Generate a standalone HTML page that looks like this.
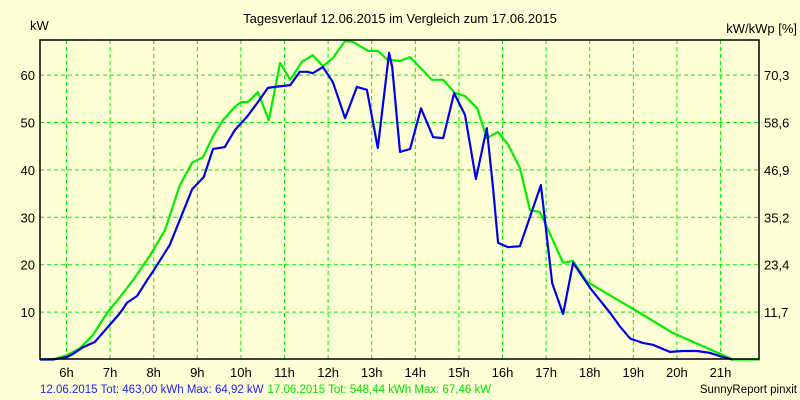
<!DOCTYPE html>
<html><head><meta charset="utf-8"><style>
html,body{margin:0;padding:0;background:#ffffd6;}
svg{display:block;font-family:"Liberation Sans",sans-serif;}
</style></head><body>
<svg id="chart" width="800" height="400">
<rect x="0" y="0" width="800" height="400" fill="#ffffd6"/>
<text x="400" y="23" text-anchor="middle" font-size="13" fill="#000">Tagesverlauf 12.06.2015 im Vergleich zum 17.06.2015</text>
<text x="30" y="30" font-size="13" fill="#000">kW</text>
<text x="797" y="33" text-anchor="end" font-size="13" fill="#000">kW/kWp [%]</text>
<g id="grid"></g>
<g id="series"></g>
<rect x="40" y="40" width="719" height="319" fill="none" stroke="#000" stroke-width="1.5"/>
<g id="axes"></g>
<text y="393" font-size="11.5"><tspan x="40" fill="#2020ff">12.06.2015 Tot: 463,00 kWh Max: 64,92 kW</tspan><tspan fill="#00e000" dx="4">17.06.2015 Tot: 548,44 kWh Max: 67,46 kW</tspan></text>
<text x="797" y="393" text-anchor="end" font-size="11.5" fill="#000">SunnyReport pinxit</text>
</svg>
<script>
const hourTicks = [6,7,8,9,10,11,12,13,14,15,16,17,18,19,20,21];
const kwTicks = [10,20,30,40,50,60];
const pctLabels = ["11,7","23,4","35,2","46,9","58,6","70,3"];
const blueHours = [5.39,5.69,6.01,6.15,6.38,6.65,6.99,7.23,7.39,7.62,7.85,7.98,8.37,8.88,9.15,9.36,9.63,9.86,10.14,10.39,10.62,10.78,11.13,11.35,11.52,11.65,11.88,12.11,12.39,12.66,12.89,13.14,13.40,13.47,13.65,13.88,14.13,14.41,14.64,14.89,15.14,15.39,15.64,15.78,15.90,16.13,16.40,16.88,17.14,17.39,17.62,18.01,18.47,18.70,18.93,19.22,19.45,19.84,20.14,20.46,20.76,21.06,21.28];
const blueKw = [0,0,0.5,1.2,2.6,3.7,7.3,9.8,12.0,13.4,16.8,18.5,24.2,35.9,38.5,44.4,44.8,48.4,51.2,54.3,57.3,57.5,57.9,60.7,60.7,60.4,61.7,58.5,50.9,57.5,56.9,44.6,64.7,61.7,43.8,44.4,53.0,46.9,46.7,56.2,51.6,38.1,48.8,36.5,24.6,23.7,23.9,36.8,16.1,9.6,20.4,15.1,9.8,6.9,4.4,3.5,3.1,1.6,1.8,1.8,1.4,0.5,0];
const greenHours = [5.39,5.74,6.01,6.31,6.61,6.93,7.23,7.53,7.92,8.26,8.60,8.88,9.13,9.36,9.59,9.86,10.00,10.16,10.39,10.64,10.90,11.13,11.40,11.65,11.88,12.11,12.39,12.57,12.92,13.14,13.37,13.65,13.88,14.38,14.64,14.91,15.14,15.42,15.64,15.90,16.13,16.40,16.63,16.86,17.39,17.62,17.94,18.99,19.91,20.99,21.28,21.90];
const greenKw = [0,0.1,0.9,2.4,5.2,9.8,13.2,16.8,22.0,27.3,36.8,41.5,42.7,47.1,50.5,53.3,54.3,54.3,56.4,50.5,62.6,59.0,62.8,64.2,61.9,63.6,67.2,67.0,65.1,65.1,63.2,63.0,63.8,59.0,59.0,56.2,55.6,53.0,46.7,48.0,45.3,40.4,31.5,31.1,20.4,20.8,16.4,10.7,5.6,1.2,0,0];

const NS = "http://www.w3.org/2000/svg";
const X0 = 40, X1 = 759, Y0 = 40, Y1 = 359;
function xs(h){ return 66.5 + (h - 6) * 43.6; }
function ys(v){ return 359.5 - v * 4.74; }

const grid = document.getElementById('grid');
const axes = document.getElementById('axes');
hourTicks.forEach(h => {
  const l = document.createElementNS(NS,'line');
  l.setAttribute('x1', xs(h)); l.setAttribute('x2', xs(h));
  l.setAttribute('y1', Y0); l.setAttribute('y2', Y1);
  l.setAttribute('stroke', '#00ee00'); l.setAttribute('stroke-dasharray', '4,3');
  
  
  grid.appendChild(l);
  const t = document.createElementNS(NS,'text');
  t.setAttribute('x', xs(h)); t.setAttribute('y', 377);
  t.setAttribute('text-anchor', 'middle'); t.setAttribute('font-size', '13');
  t.textContent = h + 'h';
  
  
  axes.appendChild(t);
});
kwTicks.forEach((v, i) => {
  const l = document.createElementNS(NS,'line');
  l.setAttribute('x1', X0); l.setAttribute('x2', X1);
  l.setAttribute('y1', ys(v)); l.setAttribute('y2', ys(v));
  l.setAttribute('stroke', '#00ee00'); l.setAttribute('stroke-dasharray', '4,3');
  
  
  grid.appendChild(l);
  const t = document.createElementNS(NS,'text');
  t.setAttribute('x', 35); t.setAttribute('y', ys(v) + 5);
  t.setAttribute('text-anchor', 'end'); t.setAttribute('font-size', '13');
  t.textContent = v;
  
  
  axes.appendChild(t);
  const r = document.createElementNS(NS,'text');
  r.setAttribute('x', 764); r.setAttribute('y', ys(v) + 5);
  r.setAttribute('font-size', '13');
  r.textContent = pctLabels[i];
  
  
  axes.appendChild(r);
});
const series = document.getElementById('series');
function drawLine(hours, vals, color, name){
  const p = document.createElementNS(NS,'polyline');
  p.setAttribute('points', hours.map((h,i) => xs(h).toFixed(1) + ',' + ys(vals[i]).toFixed(1)).join(' '));
  p.setAttribute('fill', 'none'); p.setAttribute('stroke', color);
  p.setAttribute('stroke-width', '2.2'); p.setAttribute('stroke-linejoin', 'round');
  
  
  series.appendChild(p);
}
drawLine(greenHours, greenKw, '#00ee00', 'line-17-06-2015');
drawLine(blueHours, blueKw, '#0000ee', 'line-12-06-2015');
</script>
</body></html>
